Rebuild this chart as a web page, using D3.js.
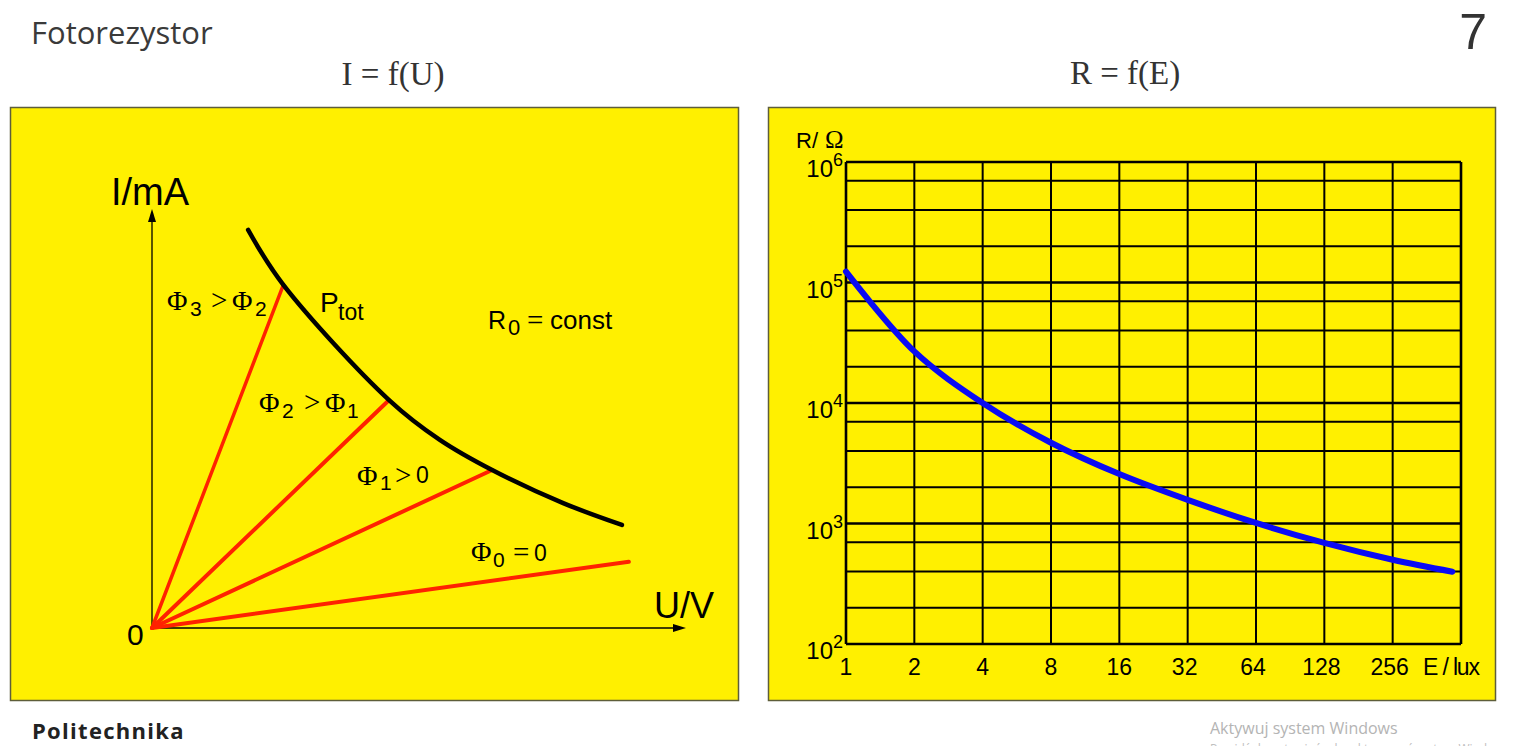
<!DOCTYPE html>
<html><head><meta charset="utf-8">
<script src="https://cdn.jsdelivr.net/npm/d3@7"></script>
<style>html,body{margin:0;padding:0;background:#fff;overflow:hidden}</style>
</head><body>
<svg id="c" width="1517" height="746"></svg>
<script>
// ---------------- data ----------------
const slideTitle = "Fotorezystor";
const pageNumber = "7";
const leftTitle = "I = f(U)";
const rightTitle = "R = f(E)";
const footerText = "Politechnika";
const watermark1 = "Aktywuj system Windows";
const watermark2 = "Przejdź do ustawień, aby aktywować system Windows.";

// Left chart: I = f(U)
const uMax = 10, iMax = 10;
const ptotU = [1.80, 2.46, 4.44, 5.39, 6.37, 7.70, 8.80];
const ptotI = [9.50, 8.19, 5.44, 4.49, 3.77, 2.98, 2.46];
const fluxNames = ["Φ3", "Φ2", "Φ1", "Φ0"];
const fluxEndU = [2.46, 4.44, 6.37, 8.93];
const fluxEndI = [8.19, 5.44, 3.77, 1.58];

// Right chart: R = f(E)
const eTicks = [1, 2, 4, 8, 16, 32, 64, 128, 256];
const eMax = 512;
const rDecades = [1e2, 1e3, 1e4, 1e5, 1e6];
const rExponents = ["2", "3", "4", "5", "6"];
const rMinorFactors = [2, 4, 7];
const curveE = [1, 2, 4, 8, 16, 32, 64, 128, 256, 469];
const curveR = [123000, 26800, 10000, 4680, 2570, 1570, 1010, 690, 500, 398];

// ---------------- drawing ----------------
const svg = d3.select("#c");
const SANS = "'Liberation Sans', Arial, sans-serif";
const SERIF = "'Liberation Serif', 'Times New Roman', serif";
const UI = "'Open Sans', sans-serif";
const YELLOW = "#fff000";
const RED = "#ff2200";
const BLUE = "#0a0af5";

// slide header/footer
svg.append("text").attr("x", 31).attr("y", 44).attr("font-family", UI)
  .attr("font-size", 31).attr("fill", "#3a3a3a").text(slideTitle);
svg.append("text").attr("x", 1487).attr("y", 49).attr("text-anchor", "end").attr("font-family", SANS)
  .attr("font-size", 50).attr("fill", "#333").text(pageNumber);
svg.append("text").attr("x", 393).attr("y", 85).attr("text-anchor", "middle").attr("font-family", SERIF)
  .attr("font-size", 33).attr("fill", "#333").text(leftTitle);
svg.append("text").attr("x", 1125).attr("y", 84).attr("text-anchor", "middle").attr("font-family", SERIF)
  .attr("font-size", 33).attr("fill", "#333").text(rightTitle);
svg.append("text").attr("x", 32).attr("y", 739).attr("font-family", UI)
  .attr("font-weight", 700).attr("font-size", 22).attr("letter-spacing", 1.3).attr("fill", "#222").text(footerText);
svg.append("text").attr("x", 1210).attr("y", 734).attr("font-family", UI)
  .attr("font-size", 16).attr("fill", "#b4b4b4").text(watermark1);
svg.append("text").attr("x", 1210).attr("y", 753).attr("font-family", UI)
  .attr("font-size", 12).attr("fill", "#c0c0c0").text(watermark2);

// panels
svg.append("rect").attr("x", 10.5).attr("y", 107.5).attr("width", 728).attr("height", 593)
  .attr("fill", YELLOW).attr("stroke", "#5e5e3a").attr("stroke-width", 1.5);
svg.append("rect").attr("x", 768.5).attr("y", 107.5).attr("width", 727).attr("height", 593)
  .attr("fill", YELLOW).attr("stroke", "#5e5e3a").attr("stroke-width", 1.5);

// rich text helper
function rich(g, parts) {
  const t = g.append("text");
  parts.forEach(p => {
    const s = t.append("tspan").attr("x", p.x).attr("y", p.y)
      .attr("font-family", p.f || SANS).attr("font-size", p.s).attr("fill", "#000").text(p.t);
    if (p.len) s.attr("textLength", p.len).attr("lengthAdjust", "spacing");
  });
  return t;
}

// ---------- Left chart ----------
const L = svg.append("g");
const xL = d3.scaleLinear().domain([0, uMax]).range([152, 686]);
const yL = d3.scaleLinear().domain([0, iMax]).range([628, 209]);

// axes with arrows
L.append("line").attr("x1", xL(0)).attr("y1", yL(0)).attr("x2", xL(0)).attr("y2", yL(iMax) + 10)
  .attr("stroke", "#000").attr("stroke-width", 1.3);
L.append("path").attr("d", `M${xL(0)},${yL(iMax)} l-4,13 l8,0 z`).attr("fill", "#000");
L.append("line").attr("x1", xL(0)).attr("y1", yL(0)).attr("x2", xL(uMax) - 10).attr("y2", yL(0))
  .attr("stroke", "#000").attr("stroke-width", 1.3);
L.append("path").attr("d", `M${xL(uMax)},${yL(0)} l-13,-4 l0,8 z`).attr("fill", "#000");

// red flux lines
fluxNames.forEach((n, i) => {
  L.append("line").attr("x1", xL(0)).attr("y1", yL(0))
    .attr("x2", xL(fluxEndU[i])).attr("y2", yL(fluxEndI[i]))
    .attr("stroke", RED).attr("stroke-width", i === 0 ? 3.5 : 4).attr("stroke-linecap", "round");
});

// Ptot hyperbola
const ptotLine = d3.line().x((d, i) => xL(ptotU[i])).y((d, i) => yL(ptotI[i])).curve(d3.curveCatmullRom);
L.append("path").attr("d", ptotLine(ptotU)).attr("fill", "none").attr("stroke", "#000")
  .attr("stroke-width", 4.5).attr("stroke-linecap", "round");

// labels
rich(L, [{t: "I/mA", x: 111, y: 205, s: 38}]);
rich(L, [{t: "U/V", x: 654, y: 618, s: 36}]);
rich(L, [{t: "0", x: 127, y: 645, s: 30}]);
rich(L, [{t: "Φ", x: 167, y: 310, s: 28, f: SERIF}, {t: "3", x: 190, y: 316, s: 21},
         {t: ">", x: 211, y: 310, s: 29, f: SERIF}, {t: "Φ", x: 232, y: 310, s: 28, f: SERIF},
         {t: "2", x: 255, y: 316, s: 21}]);
rich(L, [{t: "Φ", x: 259, y: 412, s: 28, f: SERIF}, {t: "2", x: 282, y: 418, s: 21},
         {t: ">", x: 304, y: 412, s: 29, f: SERIF}, {t: "Φ", x: 325, y: 412, s: 28, f: SERIF},
         {t: "1", x: 347, y: 418, s: 21}]);
rich(L, [{t: "Φ", x: 357, y: 485, s: 28, f: SERIF}, {t: "1", x: 380, y: 490, s: 21},
         {t: ">", x: 395, y: 485, s: 29, f: SERIF}, {t: "0", x: 416, y: 483, s: 23}]);
rich(L, [{t: "Φ", x: 471, y: 561, s: 28, f: SERIF}, {t: "0", x: 493, y: 567, s: 21},
         {t: "=", x: 513, y: 562, s: 29, f: SERIF}, {t: "0", x: 534, y: 561, s: 23}]);
rich(L, [{t: "P", x: 320, y: 312, s: 28}, {t: "tot", x: 338, y: 320, s: 23}]);
rich(L, [{t: "R", x: 488, y: 329, s: 25}, {t: "0", x: 508, y: 335, s: 22},
         {t: "=", x: 527, y: 330, s: 29, f: SERIF}, {t: "const", x: 550, y: 329, s: 26}]);

// ---------- Right chart ----------
const R = svg.append("g");
const xR = d3.scaleLog().base(2).domain([1, eMax]).range([846, 1461]);
const yR = d3.scaleLog().domain([rDecades[0], rDecades[rDecades.length - 1]]).range([644, 162]);

// grid
const minor = [];
rDecades.slice(0, -1).forEach(d => rMinorFactors.forEach(f => minor.push(d * f)));
R.selectAll("line.minor").data(minor).enter().append("line")
  .attr("x1", xR(1)).attr("x2", xR(eMax)).attr("y1", d => yR(d)).attr("y2", d => yR(d))
  .attr("stroke", "#000").attr("stroke-width", 2);
R.selectAll("line.major").data(rDecades).enter().append("line")
  .attr("x1", xR(1)).attr("x2", xR(eMax)).attr("y1", d => yR(d)).attr("y2", d => yR(d))
  .attr("stroke", "#000").attr("stroke-width", 2.6);
R.selectAll("line.vert").data(eTicks.concat([eMax])).enter().append("line")
  .attr("x1", d => xR(d)).attr("x2", d => xR(d)).attr("y1", yR(1e6)).attr("y2", yR(1e2))
  .attr("stroke", "#000").attr("stroke-width", d => (d === 1 || d === eMax) ? 2.6 : 2);

// curve
const rLine = d3.line().x((d, i) => xR(curveE[i])).y((d, i) => yR(curveR[i])).curve(d3.curveCatmullRom);
R.append("path").attr("d", rLine(curveE)).attr("fill", "none").attr("stroke", BLUE)
  .attr("stroke-width", 6).attr("stroke-linecap", "round");

// tick labels
R.selectAll("text.xt").data(eTicks).enter().append("text")
  .attr("x", d => xR(d) - (d >= 32 ? 3 : 0)).attr("y", 675).attr("text-anchor", "middle")
  .attr("font-family", SANS).attr("font-size", 23).text(d => d);
rich(R, [{t: "E / lux", x: 1423, y: 675, s: 23, len: 57}]);
rich(R, [{t: "R", x: 796, y: 148, s: 22}, {t: "/", x: 812, y: 148, s: 22},
         {t: "Ω", x: 825, y: 148, s: 25, f: SERIF}]);
rDecades.forEach((d, i) => {
  const t = R.append("text").attr("x", 843).attr("y", yR(d) + 15).attr("text-anchor", "end")
    .attr("font-family", SANS).attr("font-size", 24);
  t.append("tspan").text("10");
  t.append("tspan").attr("dy", -11).attr("font-size", 18).text(rExponents[i]);
});
</script>
</body></html>
